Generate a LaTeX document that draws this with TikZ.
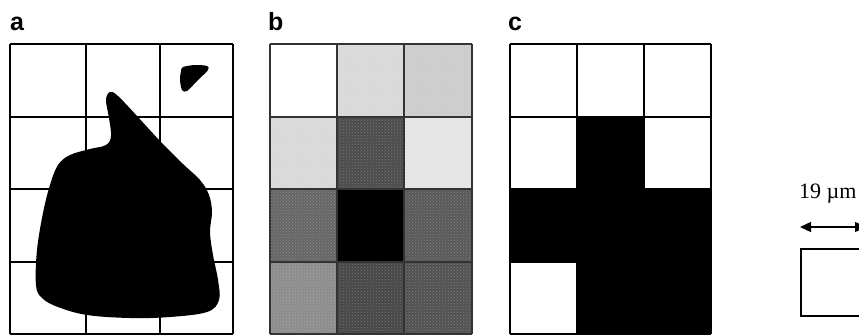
\documentclass[tikz,border=0pt]{standalone}
\usepackage{fontspec}
\setmainfont{Liberation Serif}
\newfontfamily\labfont{Liberation Sans}
\usetikzlibrary{arrows.meta,patterns}
\tikzset{
  panellabel/.style={inner sep=0pt, anchor=base west, font=\labfont\bfseries\fontsize{25}{28}\selectfont},
  gridline/.style={line width=2pt, black},
  gridlineb/.style={line width=1.6pt, black!80},
  blob/.style={fill=black, draw=none},
  tex/.style={pattern=crosshatch dots, pattern color=white, opacity=0.25},
  scalebox/.style={draw=black, line width=2pt},
  scalearrow/.style={line width=1.4pt, {Triangle[length=11pt,width=10pt]}-{Triangle[length=11pt,width=10pt]}}
}
\begin{document}
\begin{tikzpicture}[x=1pt,y=-1pt]
\useasboundingbox (0,0) rectangle (859,335);
\clip (0,0) rectangle (859,335);
\fill[white] (0,0) rectangle (859,335);
% labels
\node[panellabel] (la) at (10,30) {a};
\node[panellabel] (lb) at (268,30) {b};
\node[panellabel] (lc) at (508,30) {c};
% ---------- panel a ----------
\foreach \x in {10,86,160,233} \draw[gridline] (\x,44) -- (\x,334);
\foreach \y in {44,117,189,262,334} \draw[gridline] (10,\y) -- (233,\y);
\fill[blob] plot[smooth cycle, tension=0.6] coordinates {
 (110,92) (118,96) (137,116) (160,141) (183,164) (200,180) (209,195) (212,212)
 (210,232) (213,255) (218,280) (219,300) (207,312) (170,317) (130,318) (87,315)
 (58,307) (42,298) (36,285) (37,250) (43,213) (50,185) (58,165) (70,155)
 (90,149) (106,145) (111,136) (109,118) (106,100)};
\fill[blob] plot[smooth cycle, tension=0.5] coordinates {
 (183,67) (195,65) (207,66) (208,70) (198,80) (187,91) (182,90) (180,80) (181,71)};
% ---------- panel b ----------
\def\bx{{270,337,404,472}}
\def\by{{44,117,189,262,334}}
\foreach \c/\r/\g in {1/1/0,2/1/15,3/1/20,1/2/15,2/2/70,3/2/10,1/3/60,2/3/100,3/3/65,1/4/45,2/4/72,3/4/68}{
  \pgfmathsetmacro{\xa}{\bx[\c-1]}
  \pgfmathsetmacro{\xb}{\bx[\c]}
  \pgfmathsetmacro{\ya}{\by[\r-1]}
  \pgfmathsetmacro{\yb}{\by[\r]}
  \fill[black!\g] (\xa,\ya) rectangle (\xb,\yb);
  \ifnum\g>0 \ifnum\g<100 \fill[tex] (\xa,\ya) rectangle (\xb,\yb); \fi\fi
}
\foreach \x in {270,337,404,472} \draw[gridlineb] (\x,44) -- (\x,334);
\foreach \y in {44,117,189,262,334} \draw[gridlineb] (270,\y) -- (472,\y);
% ---------- panel c ----------
\fill[black] (577,117) rectangle (644,189);
\fill[black] (510,189) rectangle (711,262);
\fill[black] (577,262) rectangle (711,334);
\foreach \x in {510,577,644,711} \draw[gridline] (\x,44) -- (\x,334);
\foreach \y in {44,117,189,262,334} \draw[gridline] (510,\y) -- (711,\y);
% ---------- scale bar ----------
\node[inner sep=0pt, anchor=base west, font=\fontsize{22}{26}\selectfont] (sl) at (799,198) {19 µm};
\coordinate (al) at (800,227);
\coordinate (ar) at (866,227);
\draw[scalearrow] (al) -- (ar);
\node[scalebox, minimum width=67pt, minimum height=67pt, inner sep=0pt, anchor=north west] (sb) at (800,248) {};
\end{tikzpicture}
\end{document}
